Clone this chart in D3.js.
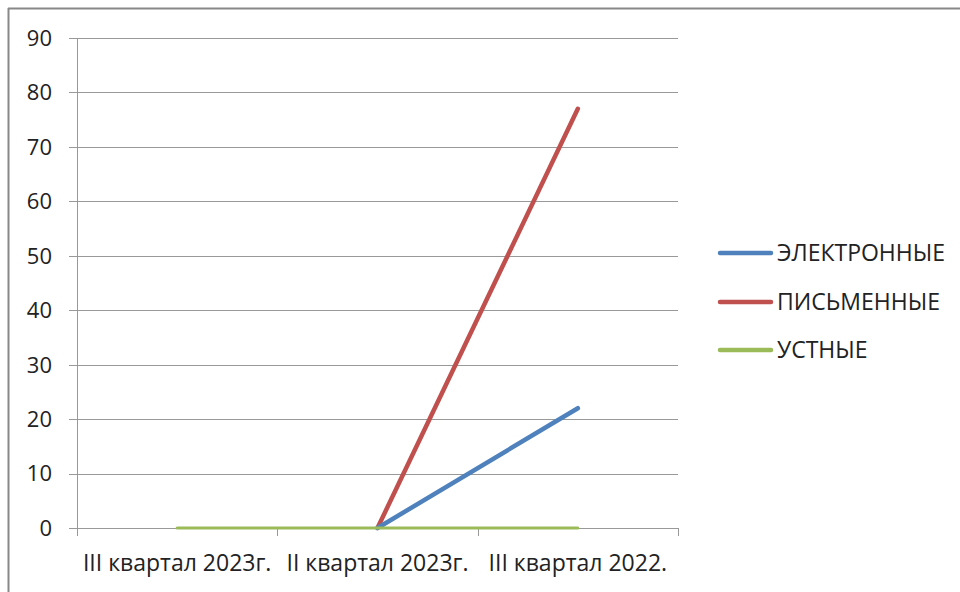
<!DOCTYPE html>
<html><head><meta charset="utf-8">
<script src="https://cdn.jsdelivr.net/npm/d3@7"></script>
<style>body{margin:0;background:#fff}svg{display:block}text{font-family:"Open Sans",sans-serif;fill:#000}</style>
</head><body><svg id="c" width="960" height="592"></svg>
<script>
const categories = ["III квартал 2023г.", "II квартал 2023г.", "III квартал 2022."];
const seriesNames = ["ЭЛЕКТРОННЫЕ", "ПИСЬМЕННЫЕ", "УСТНЫЕ"];
const electronic = [null, 0, 22];
const written = [null, 0, 77];
const oral = [0, 0, 0];
const yTicks = [0, 10, 20, 30, 40, 50, 60, 70, 80, 90];
const colors = ["#4F81BD", "#C0504D", "#9BBB59"];
const series = [electronic, written, oral];

const svg = d3.select("#c");
// outer border (top & left visible)
svg.append("line").attr("x1",8).attr("x2",960).attr("y1",8.5).attr("y2",8.5).attr("stroke","#888").attr("stroke-width",2);
svg.append("line").attr("x1",8.5).attr("x2",8.5).attr("y1",8).attr("y2",592).attr("stroke","#888").attr("stroke-width",2);

const L=77, R=678, T=38, B=528;
const x = d3.scaleBand().domain(categories).range([L,R]);
const y = d3.scaleLinear().domain([0,90]).range([B,T]);

// gridlines
svg.append("g").selectAll("line").data(yTicks).join("line")
  .attr("x1",L-8).attr("x2",R).attr("y1",d=>Math.round(y(d))+0.5).attr("y2",d=>Math.round(y(d))+0.5)
  .attr("stroke","#999").attr("stroke-width",1);
// y axis line
svg.append("line").attr("x1",L+0.5).attr("x2",L+0.5).attr("y1",T).attr("y2",B).attr("stroke","#999");
// y labels
svg.append("g").selectAll("text").data(yTicks).join("text")
  .attr("x",52).attr("y",d=>y(d)).attr("dy","0.36em").attr("text-anchor","end")
  .style("font-size","22px").style("fill","#222").text(d=>d);
// x ticks
const xt = categories.map(c=>x(c)).concat([R]);
svg.append("g").selectAll("line").data(xt).join("line")
  .attr("x1",d=>Math.round(d)+0.5).attr("x2",d=>Math.round(d)+0.5).attr("y1",B).attr("y2",B+8)
  .attr("stroke","#999");
// x labels
svg.append("g").selectAll("text").data(categories).join("text")
  .attr("x",d=>x(d)+x.bandwidth()/2).attr("y",571).attr("text-anchor","middle")
  .style("font-size","23px").style("fill","#222").text(d=>d);

// lines
const line = d3.line().defined(d=>d!==null)
  .x((d,i)=>x(categories[i])+x.bandwidth()/2).y(d=>y(d));
[1,0,2].forEach(k=>{
  svg.append("path").datum(series[k]).attr("d",line).attr("fill","none")
    .attr("stroke",colors[k]).attr("stroke-width",k===2?3:4.5).attr("stroke-linecap","round").attr("stroke-linejoin","round");
});

// legend
const ly = [253, 302, 350];
seriesNames.forEach((n,i)=>{
  svg.append("line").attr("x1",720).attr("x2",771).attr("y1",ly[i]).attr("y2",ly[i])
    .attr("stroke",colors[i]).attr("stroke-width",4.5).attr("stroke-linecap","round");
  svg.append("text").attr("x",777).attr("y",ly[i]).attr("dy","0.36em")
    .style("font-size","23px").style("fill","#222").text(n);
});
</script></body></html>
